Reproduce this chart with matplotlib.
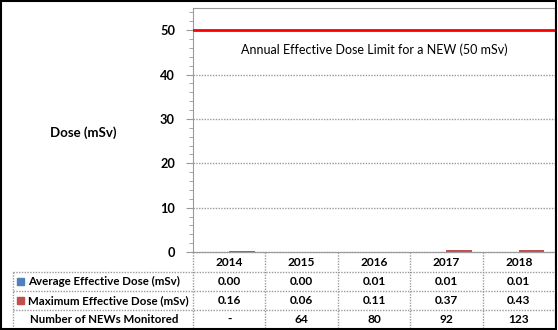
import numpy as np
import matplotlib.pyplot as plt
from matplotlib.patches import Rectangle
import matplotlib.transforms as mtransforms

years = ['2014', '2015', '2016', '2017', '2018']
avg_dose = [0.00, 0.00, 0.01, 0.01, 0.01]
max_dose = [0.16, 0.06, 0.11, 0.37, 0.43]
avg_labels = ['0.00', '0.00', '0.01', '0.01', '0.01']
max_labels = ['0.16', '0.06', '0.11', '0.37', '0.43']
news_monitored = ['-', '64', '80', '92', '123']
dose_limit = 50

BLUE = '#4f81bd'
RED = '#c0504d'
GRID = '#9a9a9a'
FONT = 'Lato'

W, H = 558, 330
fig = plt.figure(figsize=(W / 100, H / 100), dpi=100)

# plot area in pixel coordinates
px_left, px_right, px_top, px_bottom = 193, 555, 8, 252
ax = fig.add_axes([px_left / W, 1 - px_bottom / H,
                   (px_right - px_left) / W, (px_bottom - px_top) / H])

x = np.arange(len(years))
bw = 0.35
ax.bar(x - bw / 2, avg_dose, bw, color=BLUE)
ax.bar(x + bw / 2, max_dose, bw, color=RED)
ax.axhline(dose_limit, color='red', lw=2, zorder=3)
ax.text(2, 45.5, 'Annual Effective Dose Limit for a NEW (50 mSv)',
        ha='center', va='center', fontsize=9, family=FONT, color='black')

ax.set_xlim(-0.5, len(years) - 0.5)
ax.set_ylim(0, 55)
ax.set_yticks([0, 10, 20, 30, 40, 50])
ax.set_yticks(np.arange(0, 55, 2), minor=True)
ax.set_yticklabels(['0', '10', '20', '30', '40', '50'], fontsize=9.2,
                   fontweight='bold', family=FONT)
ax.tick_params(axis='y', which='major', direction='out', length=5, color=GRID, pad=8)
ax.tick_params(axis='y', which='minor', direction='out', length=3, color=GRID)
ax.set_xticks([])
for v in [10, 20, 30, 40]:
    ax.axhline(v, color=GRID, lw=1, ls=(0, (1, 1)), zorder=0)
for side in ['top', 'right', 'left', 'bottom']:
    ax.spines[side].set_color(GRID)
    ax.spines[side].set_linestyle((0, (1, 1)))
ax.spines['left'].set_linestyle('-')
ax.spines['bottom'].set_linestyle('-')

fig.text(83 / W, 1 - 133 / H, 'Dose (mSv)', ha='center', va='center',
         fontsize=9.5, fontweight='bold', family=FONT)

# data table under the plot: x in data units, y in pixels
def ypix(p):
    return (px_bottom - p) / (px_bottom - px_top)

trans = mtransforms.blended_transform_factory(ax.transData, ax.transAxes)
row_lines = [252, 272, 291, 310, 329]
left_edge = -0.5 - (px_left - 13) / ((px_right - px_left) / len(years))
line_kw = dict(color=GRID, lw=1, ls=(0, (1, 1)), transform=trans, clip_on=False)

for i, yp in enumerate(row_lines):
    x0 = -0.5 if i == 0 else left_edge
    ax.plot([x0, len(years) - 0.5], [ypix(yp)] * 2, **line_kw)
for b in np.arange(-0.5, len(years), 1.0):
    ax.plot([b, b], [ypix(252), ypix(329)], **line_kw)
ax.plot([left_edge, left_edge], [ypix(272), ypix(329)], **line_kw)

row_text = [years, avg_labels, max_labels, news_monitored]
row_names = [None, 'Average Effective Dose (mSv)',
             'Maximum Effective Dose (mSv)', 'Number of NEWs Monitored']
row_keys = [None, BLUE, RED, None]
row_x = [None, 28, 28, 30]
for r in range(4):
    ymid = (row_lines[r] + row_lines[r + 1]) / 2
    yc = ypix(ymid)
    for i, t in enumerate(row_text[r]):
        ax.text(x[i], yc, t, ha='center', va='center', fontsize=8.6,
                fontweight='bold', family=FONT, transform=trans, clip_on=False)
    if row_names[r]:
        fig.text(row_x[r] / W, 1 - ymid / H, row_names[r], ha='left', va='center',
                 fontsize=8.3, fontweight='bold', family=FONT)
    if row_keys[r]:
        fig.patches.append(Rectangle((17 / W, 1 - (ymid + 3.5) / H),
                                     7 / W, 7 / H, transform=fig.transFigure,
                                     color=row_keys[r]))

# outer frame
fig.patches.append(Rectangle((0.001, 0.002), 0.996, 0.995, transform=fig.transFigure,
                             fill=False, ec='black', lw=1.5))

fig.savefig('out.png', dpi=100)
